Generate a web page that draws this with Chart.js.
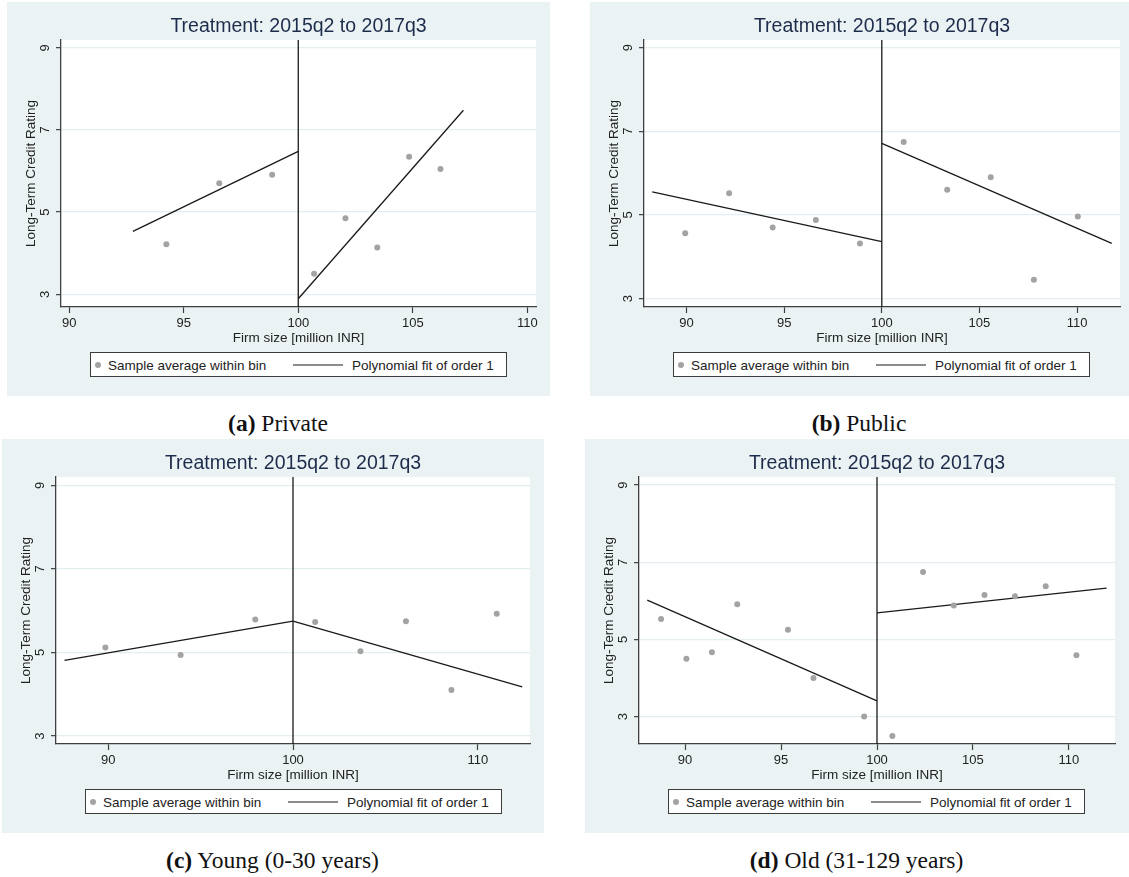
<!DOCTYPE html>
<html>
<head>
<meta charset="utf-8">
<script src="https://cdn.jsdelivr.net/npm/chart.js@4.4.1/dist/chart.umd.min.js"></script>
<style>
html,body{margin:0;padding:0;background:#ffffff;width:1129px;height:877px;overflow:hidden;position:relative;font-family:"Liberation Sans",Arial,sans-serif}
.panel{position:absolute;background:#eaf2f3}
.panel canvas{display:block}
.legend{position:absolute;background:#ffffff;border:1px solid #3c3c3c;box-sizing:border-box;font-size:13.5px;color:#222}
.legend span{position:absolute;top:50%;transform:translateY(-50%);white-space:nowrap}
.legend .ldot{width:6px;height:6px;border-radius:50%;background:#a3a3a3}
.legend .lline{height:0;border-top:1.3px solid #1a1a1a}
.caption{position:absolute;font-family:"Liberation Serif","DejaVu Serif",serif;font-size:23.5px;color:#111;text-align:center;white-space:nowrap;transform:translate(-50%,-50%)}
.caption b{font-weight:bold}
</style>
</head>
<body>
<script>
// ---------- shared text ----------
const titleText = "Treatment: 2015q2 to 2017q3";
const xAxisTitle = "Firm size [million INR]";
const yAxisTitle = "Long-Term Credit Rating";
const legendLabels = ["Sample average within bin", "Polynomial fit of order 1"];
const captionTags = ["(a)", "(b)", "(c)", "(d)"];
const captionTexts = ["Private", "Public", "Young (0-30 years)", "Old (31-129 years)"];
const cutoff = 100;
const yTicks = [3, 5, 7, 9];

// ---------- (a) Private ----------
const privBinX = [94.24, 96.55, 98.86, 100.69, 102.06, 103.45, 104.84, 106.21];
const privBinY = [4.22, 5.70, 5.91, 3.50, 4.85, 4.14, 6.35, 6.05];
const privFitLeftX = [92.78, 100];
const privFitLeftY = [4.53, 6.48];
const privFitRightX = [100, 107.21];
const privFitRightY = [2.89, 7.48];
const privXTicks = [90, 95, 100, 105, 110];
const privXRange = [89.64, 110.38];
const privYRange = [2.69, 9.19];

// ---------- (b) Public ----------
const pubBinX = [89.93, 92.18, 94.41, 96.62, 98.88, 101.12, 103.35, 105.58, 107.79, 110.04];
const pubBinY = [4.56, 5.52, 4.70, 4.88, 4.32, 6.74, 5.60, 5.90, 3.45, 4.96];
const pubFitLeftX = [88.24, 100];
const pubFitLeftY = [5.55, 4.36];
const pubFitRightX = [100, 111.78];
const pubFitRightY = [6.71, 4.32];
const pubXTicks = [90, 95, 100, 105, 110];
const pubXRange = [87.82, 112.2];
const pubYRange = [2.80, 9.18];

// ---------- (c) Young ----------
const youngBinX = [89.85, 93.92, 97.96, 101.20, 103.65, 106.11, 108.57, 111.02];
const youngBinY = [5.12, 4.94, 5.79, 5.73, 5.03, 5.75, 4.10, 5.93];
const youngFitLeftX = [87.64, 100];
const youngFitLeftY = [4.81, 5.75];
const youngFitRightX = [100, 112.40];
const youngFitRightY = [5.75, 4.18];
const youngXTicks = [90, 100, 110];
const youngXRange = [87.18, 112.82];
const youngYRange = [2.81, 9.20];

// ---------- (d) Old ----------
const oldBinX = [88.75, 90.07, 91.40, 92.72, 95.36, 96.69, 99.33, 100.80, 102.40, 104.00, 105.60, 107.19, 108.79, 110.39];
const oldBinY = [5.53, 4.50, 4.67, 5.91, 5.25, 4.00, 3.00, 2.50, 6.75, 5.88, 6.15, 6.12, 6.38, 4.59];
const oldFitLeftX = [88.03, 100];
const oldFitLeftY = [6.02, 3.41];
const oldFitRightX = [100, 111.96];
const oldFitRightY = [5.69, 6.33];
const oldXTicks = [90, 95, 100, 105, 110];
const oldXRange = [87.6, 112.4];
const oldYRange = [2.29, 9.21];

// ---------- layout (page geometry of the grey panels) ----------
const panels = [
  {box:[7, 2, 543, 394],   padRight:14, binX:privBinX, binY:privBinY, flx:privFitLeftX, fly:privFitLeftY, frx:privFitRightX, fry:privFitRightY, xTicks:privXTicks, xRange:privXRange, yRange:privYRange},
  {box:[590, 2, 539, 394], padRight:9,  binX:pubBinX, binY:pubBinY, flx:pubFitLeftX, fly:pubFitLeftY, frx:pubFitRightX, fry:pubFitRightY, xTicks:pubXTicks, xRange:pubXRange, yRange:pubYRange},
  {box:[2, 439, 542, 394], padRight:14, binX:youngBinX, binY:youngBinY, flx:youngFitLeftX, fly:youngFitLeftY, frx:youngFitRightX, fry:youngFitRightY, xTicks:youngXTicks, xRange:youngXRange, yRange:youngYRange},
  {box:[585, 439, 544, 394], padRight:14, binX:oldBinX, binY:oldBinY, flx:oldFitLeftX, fly:oldFitLeftY, frx:oldFitRightX, fry:oldFitRightY, xTicks:oldXTicks, xRange:oldXRange, yRange:oldYRange}
];

const FONT = '"Liberation Sans", Arial, sans-serif';
Chart.defaults.font.family = FONT;
Chart.defaults.animation = false;

const zip = (xs, ys) => xs.map((x, i) => ({x: x, y: ys[i]}));

const plotBg = {
  id: 'plotBg',
  beforeDraw(chart) {
    const {ctx, chartArea: a} = chart;
    ctx.save();
    ctx.fillStyle = '#ffffff';
    ctx.fillRect(a.left, a.top, a.right - a.left, a.bottom - a.top);
    ctx.restore();
  }
};
const cutoffLine = {
  id: 'cutoffLine',
  beforeDatasetsDraw(chart) {
    const {ctx, chartArea: a, scales} = chart;
    const px = scales.x.getPixelForValue(cutoff);
    ctx.save();
    ctx.strokeStyle = '#1a1a1a';
    ctx.lineWidth = 1.3;
    ctx.beginPath();
    ctx.moveTo(px, a.top);
    ctx.lineTo(px, a.bottom);
    ctx.stroke();
    ctx.restore();
  }
};

panels.forEach((p, idx) => {
  const [L, T, W, H] = p.box;
  const wrap = document.createElement('div');
  wrap.className = 'panel';
  wrap.style.left = L + 'px'; wrap.style.top = T + 'px';
  wrap.style.width = W + 'px'; wrap.style.height = H + 'px';
  const cv = document.createElement('canvas');
  cv.width = W; cv.height = H;
  cv.style.width = W + 'px'; cv.style.height = H + 'px';
  wrap.appendChild(cv);
  document.body.appendChild(wrap);

  const fitStyle = {showLine: true, borderColor: '#1a1a1a', borderWidth: 1.3, pointRadius: 0, pointHoverRadius: 0, fill: false};
  new Chart(cv, {
    type: 'scatter',
    data: {
      datasets: [
        {label: legendLabels[0], data: zip(p.binX, p.binY), pointRadius: 3, pointBackgroundColor: '#a3a3a3', pointBorderWidth: 0, showLine: false},
        Object.assign({label: legendLabels[1], data: zip(p.flx, p.fly)}, fitStyle),
        Object.assign({label: legendLabels[1] + ' (right)', data: zip(p.frx, p.fry)}, fitStyle)
      ]
    },
    options: {
      responsive: false,
      animation: false,
      layout: {padding: {left: 0, right: p.padRight, top: 0, bottom: 0}},
      plugins: {
        legend: {display: false},
        tooltip: {enabled: false},
        title: {display: true, text: titleText, fullSize: false, color: '#1e2c4c',
                font: {family: FONT, size: 19.5, weight: 'normal'}, padding: {top: 12.5, bottom: 2.1}}
      },
      scales: {
        x: {
          type: 'linear', min: p.xRange[0], max: p.xRange[1],
          afterBuildTicks: s => { s.ticks = p.xTicks.map(v => ({value: v})); },
          afterFit: s => { s.height = 89; },
          grid: {drawOnChartArea: false, drawTicks: true, tickLength: 6, tickColor: '#404040', tickWidth: 1.2},
          border: {display: true, color: '#404040', width: 1.3},
          ticks: {color: '#222', font: {size: 13}, padding: 3, minRotation: 0, maxRotation: 0, autoSkip: false, callback: v => String(v)},
          title: {display: true, text: xAxisTitle, color: '#222', font: {size: 13.5}, padding: {top: 0, bottom: 50}}
        },
        y: {
          type: 'linear', min: p.yRange[0], max: p.yRange[1],
          afterBuildTicks: s => { s.ticks = yTicks.map(v => ({value: v})); },
          afterFit: s => { s.width = 54; },
          grid: {color: '#e4edf0', lineWidth: 1.3, drawTicks: true, tickLength: 5, tickColor: '#404040', tickWidth: 1.2},
          border: {display: true, color: '#404040', width: 1.3},
          ticks: {color: '#222', font: {size: 13}, padding: 7, minRotation: 90, maxRotation: 90, crossAlign: 'center', callback: v => String(v)},
          title: {display: true, text: yAxisTitle, color: '#222', font: {size: 13.5}, padding: {top: 16, bottom: 0}}
        }
      }
    },
    plugins: [plotBg, cutoffLine]
  });

  // legend box (centred on plot area)
  const lg = document.createElement('div');
  lg.className = 'legend';
  lg.style.left = (L + 83) + 'px';
  lg.style.top = (T + 350) + 'px';
  lg.style.width = '417px';
  lg.style.height = '25px';
  const dot = document.createElement('span'); dot.className = 'ldot'; dot.style.left = '4px';
  const t1 = document.createElement('span'); t1.textContent = legendLabels[0]; t1.style.left = '17px';
  const ln = document.createElement('span'); ln.className = 'lline'; ln.style.left = '202px'; ln.style.width = '50px';
  const t2 = document.createElement('span'); t2.textContent = legendLabels[1]; t2.style.left = '261px';
  lg.append(dot, t1, ln, t2);
  document.body.appendChild(lg);

  // caption
  const cap = document.createElement('div');
  cap.className = 'caption';
  cap.style.left = (L + W / 2 - 0.5) + 'px';
  cap.style.top = (T + 421) + 'px';
  const b = document.createElement('b'); b.textContent = captionTags[idx];
  cap.append(b, document.createTextNode(' ' + captionTexts[idx]));
  document.body.appendChild(cap);
});
</script>
</body>
</html>
